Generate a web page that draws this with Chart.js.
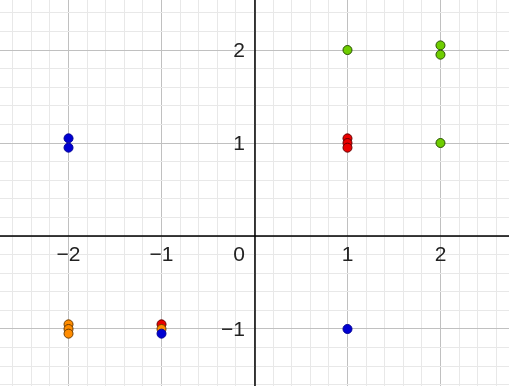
<!DOCTYPE html>
<html>
<head>
<meta charset="utf-8">
<script src="https://cdn.jsdelivr.net/npm/chart.js@4.4.1/dist/chart.umd.min.js"></script>
<style>
  html, body { margin: 0; padding: 0; background: #fff; }
</style>
</head>
<body>
<canvas id="graph" width="509" height="386"></canvas>
<script>
'use strict';

// points, one list per colour
var bluePoints = [{x: -2, y: 1.05}, {x: -2, y: 0.95}, {x: -1, y: -1.05}, {x: 1, y: -1}];
var orangePoints = [{x: -2, y: -0.95}, {x: -2, y: -1}, {x: -2, y: -1.05}, {x: -1, y: -1}];
var redPoints = [{x: -1, y: -0.95}, {x: 1, y: 1.05}, {x: 1, y: 1}, {x: 1, y: 0.95}];
var greenPoints = [{x: 1, y: 2}, {x: 2, y: 2.05}, {x: 2, y: 1.95}, {x: 2, y: 1}];

// tick labels shown next to the axes
var xLabels = [-2, -1, 1, 2];
var yLabels = [-1, 1, 2];

var xMin = -2.737, xMax = 2.737;
var yMin = -1.613, yMax = 2.538;

function gridTicks(min, max) {
	var ticks = [];
	for (var i = Math.ceil(min * 5); i <= Math.floor(max * 5); i++) {
		ticks.push({value: i / 5});
	}
	return ticks;
}

function isMajor(v) {
	return Math.abs(v - Math.round(v)) < 1e-6;
}

function gridColor(ctx) {
	var v = ctx.tick ? ctx.tick.value : 0;
	return isMajor(v) ? 'rgb(192,192,192)' : 'rgb(232,232,232)';
}

function minus(n) {
	return n < 0 ? '\u2212' + Math.abs(n) : String(n);
}

// draws the two axes through the origin and their labels
var axesPlugin = {
	id: 'axesPlugin',
	beforeDatasetsDraw: function(chart) {
		var c = chart.ctx;
		var xs = chart.scales.x, ys = chart.scales.y;
		var x0 = Math.round(xs.getPixelForValue(0));
		var y0 = Math.round(ys.getPixelForValue(0));
		c.save();
		c.strokeStyle = '#000';
		c.lineWidth = 1.5;
		c.beginPath();
		c.moveTo(0, y0);
		c.lineTo(chart.width, y0);
		c.moveTo(x0, 0);
		c.lineTo(x0, chart.height);
		c.stroke();

		c.fillStyle = '#222';
		c.font = '21px "Liberation Sans", Arial, sans-serif';
		c.textAlign = 'center';
		c.textBaseline = 'top';
		xLabels.forEach(function(v) {
			c.fillText(minus(v), xs.getPixelForValue(v), y0 + 9);
		});
		c.textAlign = 'right';
		c.fillText('0', x0 - 10, y0 + 9);
		c.textBaseline = 'middle';
		yLabels.forEach(function(v) {
			c.fillText(minus(v), x0 - 10, ys.getPixelForValue(v) + 1);
		});
		c.restore();
	}
};

var config = {
	type: 'scatter',
	data: {
		datasets: [
			{data: bluePoints, backgroundColor: 'rgb(0,0,210)', borderColor: 'rgb(0,0,150)'},
			{data: orangePoints, backgroundColor: 'rgb(255,140,0)', borderColor: 'rgb(110,60,0)'},
			{data: redPoints, backgroundColor: 'rgb(235,0,0)', borderColor: 'rgb(100,0,0)'},
			{data: greenPoints, backgroundColor: 'rgb(110,205,0)', borderColor: 'rgb(40,80,0)'}
		]
	},
	options: {
		responsive: false,
		devicePixelRatio: 1,
		animation: false,
		layout: {padding: 0, autoPadding: false},
		elements: {point: {radius: 4.5, borderWidth: 1, hoverRadius: 4.5}},
		plugins: {legend: {display: false}, tooltip: {enabled: false}},
		scales: {
			x: {
				type: 'linear', min: xMin, max: xMax,
				afterBuildTicks: function(scale) { scale.ticks = gridTicks(xMin, xMax); },
				ticks: {display: false},
				grid: {color: gridColor, drawTicks: false, lineWidth: 1},
				border: {display: false}
			},
			y: {
				type: 'linear', min: yMin, max: yMax,
				afterBuildTicks: function(scale) { scale.ticks = gridTicks(yMin, yMax); },
				ticks: {display: false},
				grid: {color: gridColor, drawTicks: false, lineWidth: 1},
				border: {display: false}
			}
		}
	},
	plugins: [axesPlugin]
};

var ctx = document.getElementById('graph').getContext('2d');
window.graph = new Chart(ctx, config);
</script>
</body>
</html>
